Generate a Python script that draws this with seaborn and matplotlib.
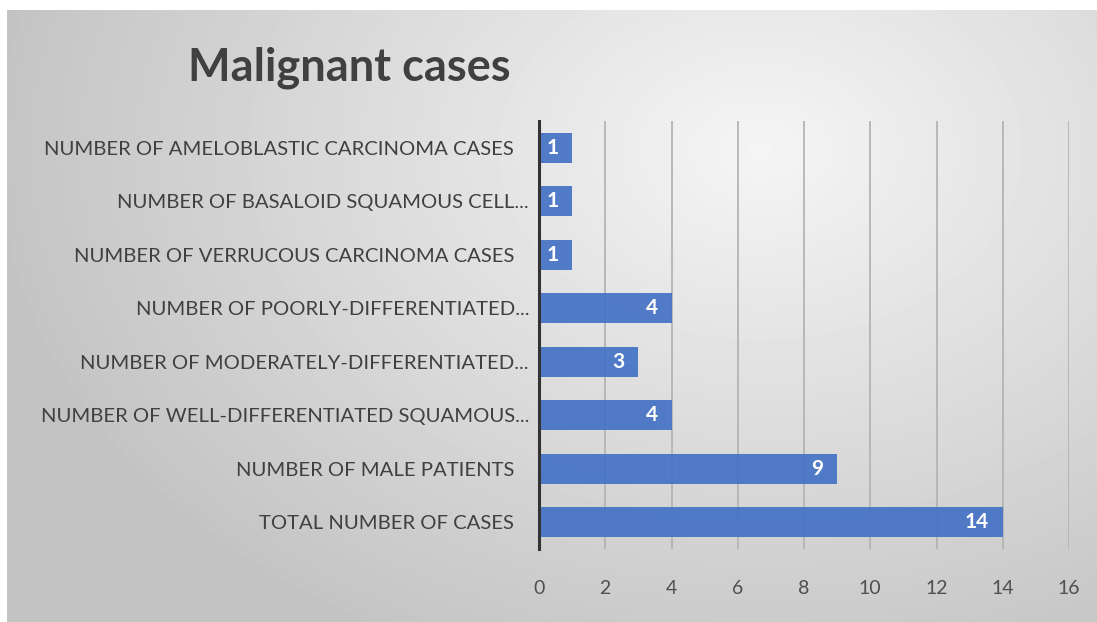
import numpy as np
import pandas as pd
import matplotlib.pyplot as plt
import matplotlib.transforms as mtransforms
import seaborn as sns

# data, top to bottom as shown
categories = [
    "NUMBER OF AMELOBLASTIC CARCINOMA CASES",
    "NUMBER OF BASALOID SQUAMOUS CELL...",
    "NUMBER OF VERRUCOUS CARCINOMA CASES",
    "NUMBER OF POORLY-DIFFERENTIATED...",
    "NUMBER OF MODERATELY-DIFFERENTIATED...",
    "NUMBER OF WELL-DIFFERENTIATED SQUAMOUS...",
    "NUMBER OF MALE PATIENTS",
    "TOTAL NUMBER OF CASES",
]
counts = [1, 1, 1, 4, 3, 4, 9, 14]
x_ticks = [0, 2, 4, 6, 8, 10, 12, 14, 16]

df = pd.DataFrame({"category": categories, "count": counts})

sns.set_style("white")
plt.rcParams["font.family"] = ["Lato", "DejaVu Sans"]

W, H = 1097, 622
fig = plt.figure(figsize=(W / 100, H / 100), dpi=100)
fig.patch.set_facecolor("white")

# --- gradient background panel ---
bg = fig.add_axes([7 / W, 0, 1 - 7 / W, 1 - 10 / H])
yy, xx = np.mgrid[10:H, 7:W]
d = np.sqrt(((xx - 760) / 720.0) ** 2 + ((yy - 150) / 520.0) ** 2)
shade = 0.96 - 0.18 * np.clip(d, 0, 1.1)
bg.imshow(shade, cmap="gray", vmin=0, vmax=1, aspect="auto",
          extent=[0, 1, 0, 1], interpolation="bilinear")
bg.set_axis_off()

# --- bar chart ---
ax = fig.add_axes([539 / W, 1 - 549 / H, (1069 - 539) / W, (549 - 121) / H])
ax.patch.set_alpha(0)
sns.barplot(data=df, y="category", x="count", orient="h", color="#4472C4",
            width=0.56, alpha=0.92, saturation=1, linewidth=0, ax=ax, zorder=3)

ax.set_xlim(0, 16)
ax.set_xticks(x_ticks)
ax.xaxis.grid(True, color="#b4b4b4", linewidth=1.3, zorder=0)
ax.set_axisbelow(True)
ax.set_xlabel("")
ax.set_ylabel("")

for s in ["top", "right", "bottom"]:
    ax.spines[s].set_visible(False)
ax.spines["left"].set_color("#333333")
ax.spines["left"].set_linewidth(2.2)
ax.spines["left"].set_zorder(4)

ax.tick_params(axis="y", length=0, pad=18, labelsize=14.6, labelcolor="#404040")
ax.tick_params(axis="x", length=0, pad=22, labelsize=14, labelcolor="#505050")

# truncated labels sit a little closer to the axis
shift = mtransforms.ScaledTranslation(0.15, 0, fig.dpi_scale_trans)
for lab in ax.get_yticklabels():
    if lab.get_text().endswith("..."):
        lab.set_transform(lab.get_transform() + shift)

for i, v in enumerate(counts):
    ax.text(v - 0.42, i, str(v), ha="right", va="center", color="white",
            fontsize=15, fontweight="bold", zorder=5)

fig.text(349 / W, 1 - 68 / H, "Malignant cases", ha="center", va="center",
         fontsize=32.5, fontweight="bold", color="#404040")

fig.savefig("out.png", dpi=100)
